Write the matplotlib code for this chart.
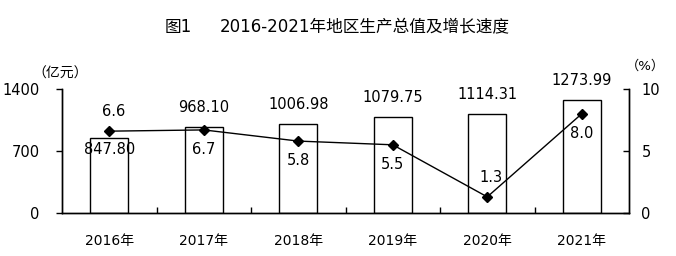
import numpy as np
import matplotlib
matplotlib.use("Agg")
import matplotlib.pyplot as plt

plt.rcParams["font.family"] = ["DejaVu Sans", "Noto Sans CJK SC"]

# ---- 数据 ----
years = ["2016年", "2017年", "2018年", "2019年", "2020年", "2021年"]
gdp = [847.80, 968.10, 1006.98, 1079.75, 1114.31, 1273.99]   # 亿元
growth = [6.6, 6.7, 5.8, 5.5, 1.3, 8.0]                      # %
growth_above = [True, False, False, False, True, False]      # 增速标签在点上方?
gdp_inside = [True, False, False, False, False, False]       # 数值标签放柱内?

W, H = 676, 256
fig = plt.figure(figsize=(W / 100, H / 100), dpi=100)
ax = fig.add_axes([62 / W, 1 - 213 / H, (629 - 62) / W, (213 - 89) / H])
ax2 = ax.twinx()

x = np.arange(len(years))
ax.bar(x, gdp, width=0.40, color="white", edgecolor="black", lw=1.0, zorder=2)
for xi, v, inside in zip(x, gdp, gdp_inside):
    ax.annotate(f"{v:.2f}", (xi, v), xytext=(0, -8 if inside else 14),
                textcoords="offset points", ha="center", va="center",
                fontsize=10.5, zorder=5)

ax2.plot(x, growth, "k-", lw=1.0, marker="D", ms=5, zorder=4)
for xi, g, up in zip(x, growth, growth_above):
    ax2.annotate(f"{g:.1f}", (xi, g), xytext=(3 if up else 0, 14 if up else -14),
                 textcoords="offset points", ha="center", va="center",
                 fontsize=10.5)

ax.set_xlim(-0.5, len(years) - 0.5)
ax.set_ylim(0, 1400)
ax2.set_ylim(0, 10)
ax.set_yticks([0, 700, 1400])
ax2.set_yticks([0, 5, 10])
ax.set_xticks(x)
ax.set_xticklabels(years, fontsize=10)
ax.set_xticks(x[:-1] + 0.5, minor=True)
ax.tick_params(axis="x", which="major", length=0, pad=15)
ax.tick_params(axis="x", which="minor", direction="in", length=4, width=1)
ax.tick_params(axis="y", direction="out", length=4, width=1, pad=12, labelsize=10.5)
ax2.tick_params(axis="y", direction="in", length=4, width=1, pad=9, labelsize=10.5)

for a in (ax, ax2):
    a.spines["top"].set_visible(False)
    for s in ("left", "right", "bottom"):
        a.spines[s].set_linewidth(1.0)

fig.text(165 / W, 1 - 27 / H, "图1", fontsize=12, ha="left", va="center")
fig.text(220 / W, 1 - 27 / H, "2016-2021年地区生产总值及增长速度",
         fontsize=12, ha="left", va="center")
fig.text(60 / W, 1 - 74 / H, "（亿元）", fontsize=10, ha="center", va="center")
fig.text(645 / W, 1 - 66 / H, "（%）", fontsize=9.5, ha="center", va="center")

fig.savefig("out.png", dpi=100)
